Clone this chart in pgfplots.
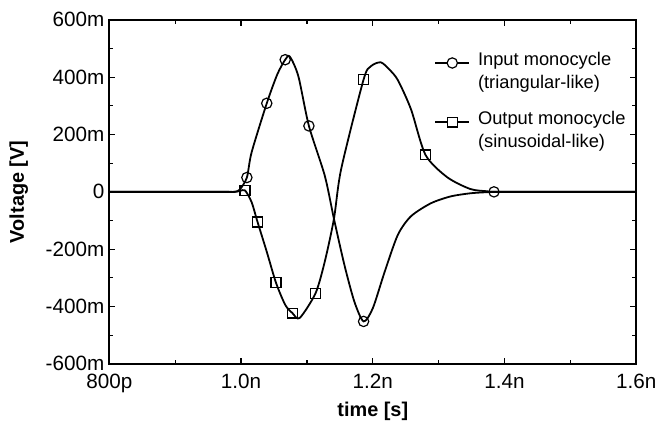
\documentclass[border=0pt]{standalone}
\usepackage{pgfplots}
\pgfplotsset{compat=1.18}
\usepackage{fontspec}
\setmainfont{Liberation Sans}

\begin{document}
\begin{tikzpicture}
\begin{axis}[
    name=ax,
    scale only axis,
    width=265pt, height=173pt,
    xmin=0.8, xmax=1.6, ymin=-0.6, ymax=0.6,
    xtick={0.8,1.0,1.2,1.4,1.6},
    xticklabels={\mbox{800p},\mbox{1.0n},\mbox{1.2n},\mbox{1.4n},\mbox{1.6n}},
    ytick={-0.6,-0.4,-0.2,0,0.2,0.4,0.6},
    yticklabels={\mbox{-600m},\mbox{-400m},\mbox{-200m},\mbox{0},\mbox{200m},\mbox{400m},\mbox{600m}},
    minor x tick num=1, minor y tick num=1,
    major tick length=3pt, minor tick length=2pt,
    tick style={black, line width=0.6pt},
    axis line style={line width=1pt},
    xticklabel style={font=\fontsize{10.4}{12}\selectfont, yshift=-1.5pt},
    yticklabel style={font=\fontsize{10.4}{12}\selectfont, xshift=1pt},
    xlabel={\textbf{time [s]}},
    ylabel={\textbf{Voltage [V]}},
    label style={font=\fontsize{10}{12}\selectfont},
    xlabel style={yshift=2pt},
    ylabel style={yshift=2pt},
    legend style={draw=none, fill=none, at={(0.605,0.93)}, anchor=north west,
        font=\fontsize{9.2}{10.6}\selectfont, row sep=6pt},
    legend cell align=left,
    every axis plot/.append style={line width=0.9pt, black},
    mark options={fill=white, solid, line width=0.6pt},
]
\addplot[smooth, tension=0.45, mark=o, mark size=2.6pt,
    mark indices={5,7,9,12,17,26},
    legend image code/.code={
        \draw[line width=0.9pt] (0pt,4.5pt) -- (17pt,4.5pt);
        \draw[fill=white, line width=0.6pt] (8.5pt,4.5pt) circle (2.6pt);}
    ] coordinates {
    (0.8,0) (0.97,0) (0.99,0) (0.998,0.008) (1.0088,0.05) (1.016,0.138)
    (1.039,0.309) (1.055,0.41) (1.067,0.461) (1.074,0.472) (1.087,0.403)
    (1.103,0.230) (1.127,0.057) (1.141,-0.094) (1.157,-0.256) (1.172,-0.383)
    (1.186,-0.452) (1.200,-0.406) (1.218,-0.279) (1.238,-0.150) (1.258,-0.085)
    (1.288,-0.040) (1.318,-0.016) (1.348,-0.005) (1.374,-0.001) (1.384,0)
    (1.6,0)
};
\addlegendentry{\hspace{2pt}\shortstack[l]{Input monocycle\\(triangular-like)}}
\addplot[smooth, tension=0.45, mark=square, mark size=2.5pt,
    mark indices={5,7,9,11,13,17,23},
    legend image code/.code={
        \draw[line width=0.9pt] (0pt,4.5pt) -- (17pt,4.5pt);
        \draw[fill=white, line width=0.6pt] (6pt,2pt) rectangle (11pt,7pt);}
    ] coordinates {
    (0.8,0) (0.97,0) (0.99,0) (0.998,0.003) (1.006,0.005) (1.016,-0.036)
    (1.025,-0.105) (1.039,-0.209) (1.053,-0.317) (1.067,-0.394) (1.078,-0.423)
    (1.089,-0.440) (1.113,-0.354) (1.127,-0.244) (1.141,-0.094) (1.152,0.080)
    (1.186,0.392) (1.197,0.438) (1.212,0.452) (1.225,0.427) (1.238,0.390)
    (1.258,0.288) (1.280,0.129) (1.313,0.051) (1.348,0.010) (1.374,0.002)
    (1.39,0) (1.6,0)
};
\addlegendentry{\hspace{2pt}\shortstack[l]{Output monocycle\\(sinusoidal-like)}}
\end{axis}
\path ([shift={(-55pt,-32pt)}]ax.south west) ([shift={(11.5pt,10pt)}]ax.north east);
\end{tikzpicture}
\end{document}
